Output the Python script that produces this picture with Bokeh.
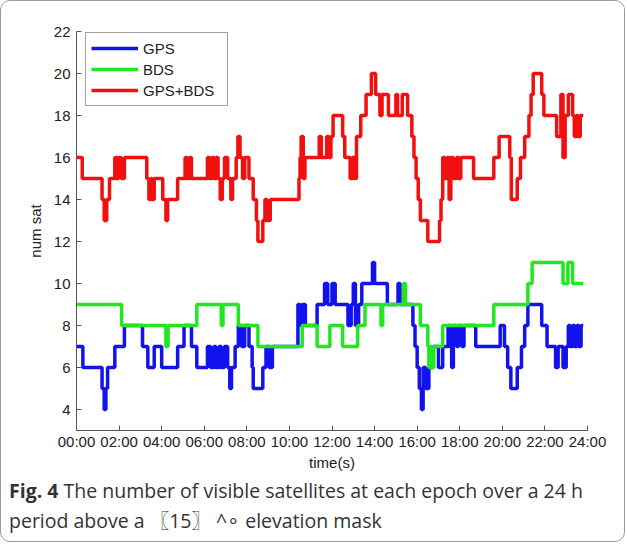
from bokeh.plotting import figure
from bokeh.models import FixedTicker, Div
from bokeh.layouts import column
from bokeh.embed import file_html
from bokeh.resources import INLINE

# ---------------- data ----------------
x_ticks = [0, 2, 4, 6, 8, 10, 12, 14, 16, 18, 20, 22, 24]
x_tick_labels = ["00:00", "02:00", "04:00", "06:00", "08:00", "10:00", "12:00",
                 "14:00", "16:00", "18:00", "20:00", "22:00", "24:00"]
y_ticks = [4, 6, 8, 10, 12, 14, 16, 18, 20, 22]

end_time = 23.8

gps_t = [0, 0.3, 1.2, 1.3, 1.38, 1.46, 1.8, 2.25, 3.1, 3.35, 3.65, 4.0, 4.75, 5.05, 5.4,
         5.65, 6.15, 6.3, 6.45, 6.55, 6.7, 6.8, 6.95, 7.1, 7.2, 7.28, 7.45, 7.6, 7.75, 7.9,
         8.1, 8.25, 8.3, 8.75, 8.9, 9.05, 9.2, 10.4, 10.5, 10.6, 10.75, 11.3, 11.65, 11.8,
         12.0, 12.15, 12.75, 12.9, 13.0, 13.1, 13.25, 13.4, 13.9, 14.0, 14.6, 15.1, 15.2,
         15.8, 15.9, 16.0, 16.1, 16.2, 16.28, 16.4, 16.55, 16.75, 17.0, 17.2, 17.45, 17.55,
         17.62, 17.7, 17.85, 17.95, 18.1, 18.2, 18.75, 19.9, 20.1, 20.25, 20.4, 20.7, 20.9,
         21.05, 21.2, 21.85, 22.1, 22.5, 22.62, 22.85, 23.0, 23.1, 23.2, 23.3, 23.4, 23.5,
         23.6, 23.7]
gps_v = [7, 6, 5, 4, 5, 6, 7, 8, 7, 6, 7, 6, 7, 8, 7,
         6, 7, 6, 7, 6, 7, 6, 7, 6, 5, 6, 7, 8, 7, 8,
         7, 6, 5, 6, 7, 6, 7, 9, 8, 9, 8, 9, 10, 9,
         10, 9, 8, 9, 10, 8, 9, 10, 11, 10, 9, 10, 9,
         8, 7, 6, 5, 4, 6, 5, 6, 7, 6, 7, 8, 7,
         6, 8, 7, 8, 7, 8, 7, 8, 7, 6, 5, 6, 7,
         8, 9, 8, 7, 6, 7, 6, 7, 8, 7, 8, 7, 8,
         7, 8]

bds_t = [0, 2.12, 4.2, 4.3, 5.65, 6.8, 6.88, 7.6, 8.52, 10.6, 11.3, 11.9, 12.5, 13.2,
         13.55, 14.3, 14.38, 15.35, 15.45, 16.15, 16.5, 16.55, 16.62, 16.7, 16.78, 17.2,
         19.6, 21.2, 21.4, 22.85, 23.08, 23.3]
bds_v = [9, 8, 7, 8, 9, 8, 9, 8, 7, 8, 7, 8, 7, 8,
         9, 8, 9, 10, 9, 8, 7, 6, 7, 6, 7, 8,
         9, 10, 11, 10, 11, 10]

all_t = [0, 0.27, 1.2, 1.3, 1.42, 1.55, 1.8, 1.9, 1.98, 2.1, 2.25, 3.3, 3.4, 3.5, 3.55,
         3.65, 4.05, 4.2, 4.28, 4.75, 5.1, 5.2, 5.3, 5.4, 6.15, 6.25, 6.35, 6.45, 6.55,
         6.65, 6.75, 6.85, 6.95, 7.1, 7.25, 7.33, 7.5, 7.58, 7.68, 7.8, 7.9, 8.1, 8.3,
         8.45, 8.52, 8.75, 8.85, 8.95, 9.1, 10.45, 10.5, 10.55, 10.65, 10.73, 11.4, 11.5,
         11.75, 11.85, 11.95, 12.05, 12.5, 12.6, 12.85, 12.95, 13.05, 13.15, 13.35, 13.6,
         13.85, 14.05, 14.25, 14.35, 14.65, 15.0, 15.08, 15.3, 15.55, 15.75, 15.85, 15.95,
         16.05, 16.15, 16.5, 17.05, 17.12, 17.2, 17.3, 17.4, 17.5, 17.58, 17.7, 17.85,
         17.95, 18.05, 18.65, 19.6, 19.85, 20.35, 20.42, 20.7, 20.85, 21.05, 21.25, 21.35,
         21.45, 21.85, 21.95, 22.55, 22.75, 22.85, 22.95, 23.1, 23.3, 23.38, 23.48, 23.56,
         23.66]
all_v = [16, 15, 14, 13, 14, 15, 16, 15, 16, 15, 16, 15, 14, 15, 14,
         15, 14, 13, 14, 15, 16, 15, 16, 15, 16, 15, 16, 15, 16,
         15, 14, 15, 16, 15, 14, 15, 16, 17, 16, 15, 16, 15, 14,
         13, 12, 13, 14, 13, 14, 15, 16, 17, 15, 16, 17, 16,
         17, 16, 17, 18, 17, 16, 15, 16, 15, 17, 18, 19,
         20, 19, 18, 19, 18, 19, 18, 19, 18, 17, 16, 15,
         14, 13, 12, 13, 14, 16, 15, 16, 14, 16, 15, 16,
         15, 16, 15, 16, 17, 16, 14, 15, 16, 17, 18, 19,
         20, 19, 18, 17, 19, 16, 18, 19, 18, 17, 18, 17,
         18]

series_names = ["GPS", "BDS", "GPS+BDS"]
series_colors = ["#1212ee", "#22e622", "#f01010"]

caption_bold = "Fig. 4"
caption_line1 = "The number of visible satellites at each epoch over a 24 h"
caption_line2 = "period above a \u301615\u3017 ^\u2218 elevation mask"

# ---------------- main figure ----------------
FONT = "Liberation Sans"
W = 623
H_MAIN = 472
H_CAP = 68
p = figure(width=W, height=H_MAIN, output_backend="svg", toolbar_location=None,
           x_range=(0, 24), y_range=(3, 22),
           min_border_left=75, min_border_right=37, min_border_top=30,
           min_border_bottom=43)
p.background_fill_color = "white"
p.border_fill_color = "white"
p.outline_line_color = None
p.xgrid.visible = False
p.ygrid.visible = False

for t, v, name, col in [(gps_t, gps_v, series_names[0], series_colors[0]),
                        (bds_t, bds_v, series_names[1], series_colors[1]),
                        (all_t, all_v, series_names[2], series_colors[2])]:
    xs = list(t) + [end_time]
    ys = list(v) + [v[-1]]
    p.step(xs, ys, mode="after", line_width=3.5, color=col, legend_label=name)

for ax in (p.xaxis[0], p.yaxis[0]):
    ax.axis_line_color = "#555555"
    ax.major_tick_line_color = "#555555"
    ax.major_tick_in = 5
    ax.major_tick_out = 0
    ax.minor_tick_line_color = None
    ax.major_label_text_font = FONT
    ax.major_label_text_font_size = "15px"
    ax.major_label_text_color = "#222222"
    ax.axis_label_text_font = FONT
    ax.axis_label_text_font_size = "15px"
    ax.axis_label_text_font_style = "normal"
    ax.axis_label_text_color = "#222222"

p.xaxis.ticker = FixedTicker(ticks=x_ticks)
p.xaxis.major_label_overrides = {t: lab for t, lab in zip(x_ticks, x_tick_labels)}
p.xaxis.axis_label = "time(s)"
p.xaxis.major_label_standoff = 2
p.xaxis.axis_label_standoff = 1
p.yaxis.ticker = FixedTicker(ticks=y_ticks)
p.yaxis.axis_label = "num sat"
p.yaxis.major_label_standoff = 6
p.yaxis.axis_label_standoff = 7

lg = p.legend[0]
lg.location = (9, 324)
lg.glyph_width = 47
lg.glyph_height = 20
lg.label_height = 20
lg.label_width = 79
lg.spacing = 1
lg.padding = 5
lg.margin = 0
lg.label_standoff = 5
lg.label_text_font = FONT
lg.label_text_font_size = "15px"
lg.label_text_color = "#222222"
lg.border_line_color = "#444444"
lg.border_line_width = 1
lg.background_fill_color = "white"
lg.background_fill_alpha = 1

# ---------------- caption ----------------
cap_html = (
    '<div style="font-family:\'Open Sans\', \'Noto Sans CJK SC\', sans-serif; '
    'font-size:19.5px; line-height:30px; color:#333333; white-space:nowrap; '
    'padding:3px 0 0 8px; margin:0;">'
    f'<b>{caption_bold}</b> {caption_line1}<br>{caption_line2}</div>'
)
cap = Div(text=cap_html, width=W, height=H_CAP, margin=0)

layout = column(p, cap, spacing=0,
                styles={"border": "1.5px solid #9a9a9a", "border-radius": "10px",
                        "overflow": "hidden", "background-color": "white"})

open("out.html", "w").write(file_html(layout, INLINE))
